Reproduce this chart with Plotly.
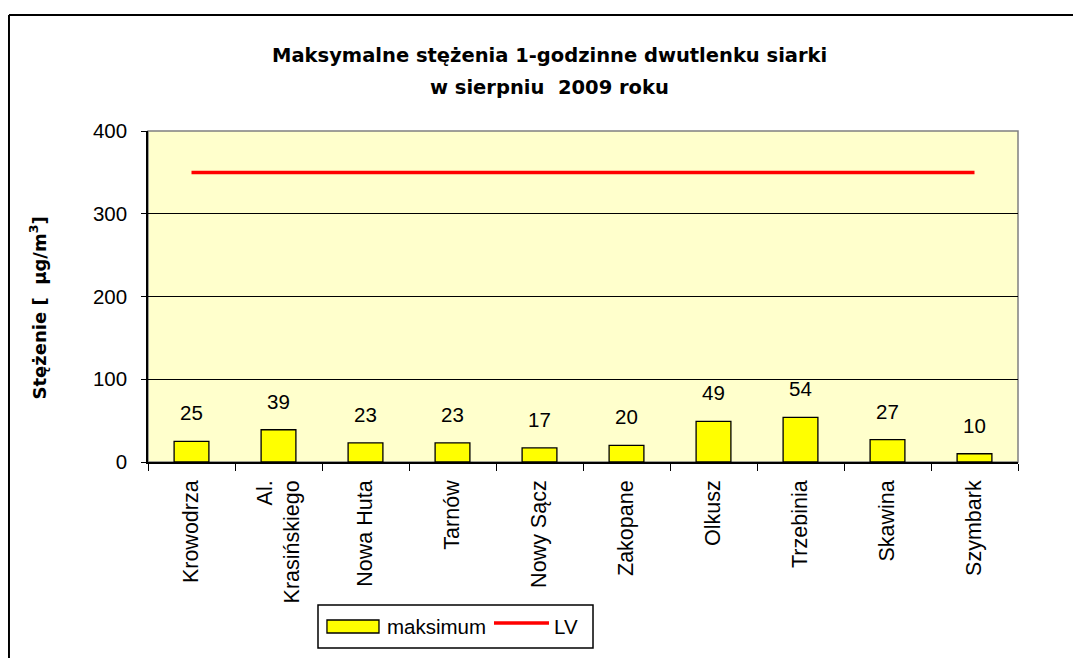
import plotly.graph_objects as go

categories = ["Krowodrza", "Al.<br>Krasińskiego", "Nowa Huta", "Tarnów", "Nowy Sącz",
              "Zakopane", "Olkusz", "Trzebinia", "Skawina", "Szymbark"]
maksimum = [25, 39, 23, 23, 17, 20, 49, 54, 27, 10]
lv = [350] * len(categories)
series_names = ["maksimum", "LV"]
title_lines = ["Maksymalne stężenia 1-godzinne dwutlenku siarki", "w sierpniu  2009 roku"]

FONT = "Liberation Sans, Arial, sans-serif"
BFONT = "DejaVu Sans, Verdana, sans-serif"
FS = 20.5

fig = go.Figure()
fig.add_trace(go.Bar(
    x=categories, y=maksimum, name=series_names[0],
    marker=dict(color="#FFFF00", line=dict(color="black", width=1.3)),
    width=0.4,
))
fig.add_trace(go.Scatter(
    x=categories, y=lv, name=series_names[1], mode="lines",
    line=dict(color="#FF0000", width=3.5),
))

for c, v in zip(categories, maksimum):
    fig.add_annotation(x=c, y=v, text=str(v), showarrow=False, yanchor="bottom",
                       yshift=15, font=dict(family=FONT, size=FS, color="black"))

# title (two lines)
for line, ypos in zip(title_lines, [1.2296, 1.1329]):
    fig.add_annotation(xref="paper", yref="paper", x=0.462, y=ypos, xanchor="center", yanchor="middle",
                       text="<b>" + line + "</b>", showarrow=False,
                       font=dict(family=BFONT, size=19.5, color="black"))
# y-axis title
fig.add_annotation(xref="paper", yref="paper", x=-0.1253, y=0.4668, xanchor="center", yanchor="middle",
                   textangle=-90, text="<b>Stężenie [  µg/m<sup>3</sup>]</b>", showarrow=False,
                   font=dict(family=BFONT, size=18, color="black"))

shapes = []
# plot area grey border
shapes.append(dict(type="rect", xref="paper", yref="paper", x0=0, x1=1, y0=0, y1=1,
                   line=dict(color="#808080", width=1.5), layer="below"))
# outer chart frame (left + top)
shapes.append(dict(type="line", xref="paper", yref="paper", x0=-0.1598, x1=-0.1598,
                   y0=1.3505, y1=-0.8, line=dict(color="black", width=2)))
shapes.append(dict(type="line", xref="paper", yref="paper", x0=-0.1598, x1=1.2,
                   y0=1.3505, y1=1.3505, line=dict(color="black", width=2)))
# legend box
shapes.append(dict(type="rect", xref="paper", yref="paper", x0=0.1954, x1=0.5115, y0=-0.5619, y1=-0.4320,
                   line=dict(color="black", width=1.5), fillcolor="white"))
shapes.append(dict(type="rect", xref="paper", yref="paper", x0=0.2057, x1=0.2655, y0=-0.5166, y1=-0.4773,
                   line=dict(color="black", width=1.3), fillcolor="#FFFF00"))
shapes.append(dict(type="line", xref="paper", yref="paper", x0=0.3977, x1=0.4609, y0=-0.4864, y1=-0.4864,
                   line=dict(color="#FF0000", width=3.5)))
fig.add_annotation(xref="paper", yref="paper", x=0.2724, y=-0.497, xanchor="left", yanchor="middle",
                   text=series_names[0], showarrow=False, font=dict(family=FONT, size=FS, color="black"))
fig.add_annotation(xref="paper", yref="paper", x=0.4644, y=-0.497, xanchor="left", yanchor="middle",
                   text=series_names[1], showarrow=False, font=dict(family=FONT, size=FS, color="black"))

fig.update_layout(
    width=1065, height=650,
    margin=dict(l=140, r=55, t=123, b=196),
    paper_bgcolor="white", plot_bgcolor="#FFFFCC",
    font=dict(family=FONT, size=FS, color="black"),
    showlegend=False,
    shapes=shapes,
    bargap=0.6,
)
fig.update_xaxes(showline=True, linecolor="black", linewidth=1.5, ticks="outside",
                 tickson="boundaries", ticklen=7, tickcolor="black", tickangle=-90,
                 tickfont=dict(family=FONT, size=21.5), showgrid=False, ticklabelstandoff=8)
fig.update_yaxes(range=[0, 400], dtick=100, showline=True, linecolor="black", linewidth=1.5,
                 ticks="outside", ticklen=5, tickcolor="black", showgrid=True,
                 gridcolor="black", gridwidth=1, zeroline=False,
                 tickfont=dict(family=FONT, size=FS), ticklabelstandoff=10)

fig.write_html("out.html")
